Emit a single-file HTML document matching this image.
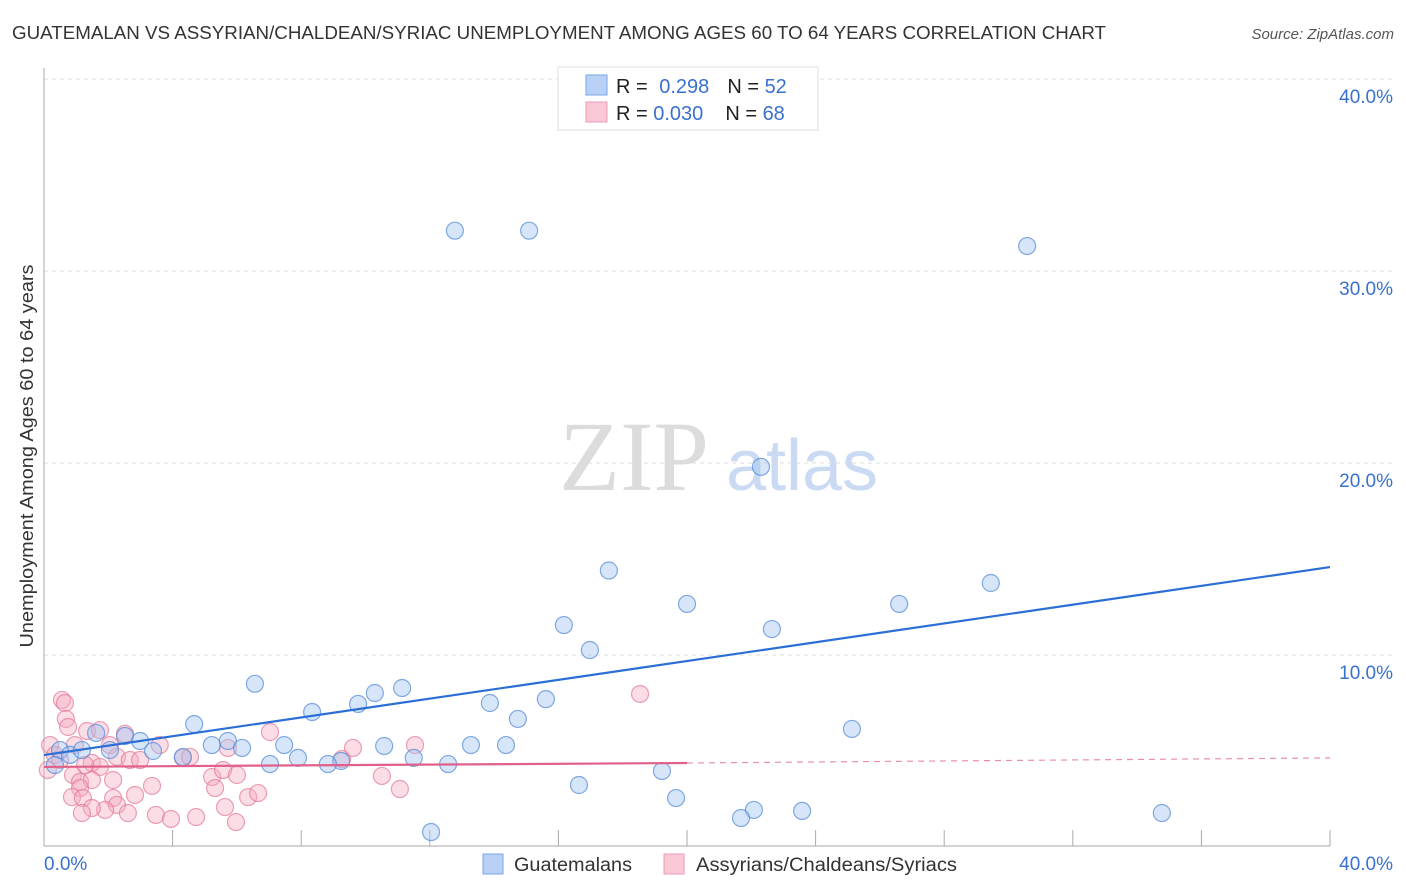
<!DOCTYPE html>
<html><head><meta charset="utf-8">
<style>
body{margin:0;background:#fff;font-family:"Liberation Sans",sans-serif;}
#wrap{position:relative;width:1406px;height:892px;overflow:hidden;}
</style></head>
<body>
<div id="wrap">
<svg id="svg" width="1406" height="892" xmlns="http://www.w3.org/2000/svg">
<text x="12" y="39" font-size="18" fill="#333" textLength="1094" lengthAdjust="spacingAndGlyphs">GUATEMALAN VS ASSYRIAN/CHALDEAN/SYRIAC UNEMPLOYMENT AMONG AGES 60 TO 64 YEARS CORRELATION CHART</text>
<text x="1394" y="39" font-size="15" fill="#555" font-style="italic" text-anchor="end">Source: ZipAtlas.com</text>
<text x="634" y="490" font-size="100" fill="#dcdcdc" font-family="Liberation Serif,serif" text-anchor="middle">ZIP</text>
<text x="802" y="490" font-size="72" fill="#c9daf2" text-anchor="middle">atlas</text>
<g id="grid"></g>
<g id="marks"></g>
<text transform="translate(33,456) rotate(-90)" font-size="18" fill="#333" text-anchor="middle" textLength="383" lengthAdjust="spacingAndGlyphs">Unemployment Among Ages 60 to 64 years</text>
<g>
<rect x="558" y="67" width="260" height="63" fill="#fff" stroke="#ddd"/>
<rect x="586" y="75" width="21" height="20" fill="#b8d0f5" stroke="#7aa6e6"/>
<rect x="586" y="102" width="21" height="20" fill="#fbc8d6" stroke="#ee9ab2"/>
<text x="616" y="93" font-size="20" fill="#222">R = <tspan fill="#3a70d0" dx="6">0.298</tspan><tspan dx="18" fill="#222">N = </tspan><tspan fill="#3a70d0">52</tspan></text>
<text x="616" y="120" font-size="20" fill="#222">R = <tspan fill="#3a70d0">0.030</tspan><tspan dx="22" fill="#222">N = </tspan><tspan fill="#3a70d0">68</tspan></text>
</g>
<g>
<rect x="483" y="854" width="20" height="20" fill="#b8d0f5" stroke="#7aa6e6"/>
<text x="514" y="871" font-size="19" fill="#333" textLength="118" lengthAdjust="spacingAndGlyphs">Guatemalans</text>
<rect x="664" y="854" width="20" height="20" fill="#fbc8d6" stroke="#ee9ab2"/>
<text x="696" y="871" font-size="19" fill="#333" textLength="261" lengthAdjust="spacingAndGlyphs">Assyrians/Chaldeans/Syriacs</text>
</g>
</svg>
</div>
<script>
const yTicks=[10,20,30,40];
const xTickCount=[0,4,8,12,16,20,24,28,32,36,40];
const blueX=[12.78,15.09,30.58,22.3,17.57,20.0,26.6,29.45,16.17,22.64,16.98,6.56,11.14,10.29,9.77,8.34,13.87,15.61,14.74,25.13,4.67,2.52,1.62,2.99,5.72,5.22,6.16,7.47,10.58,13.28,14.37,3.39,4.32,7.9,9.24,11.5,12.57,7.03,8.83,19.22,16.64,19.66,22.08,21.68,23.58,34.77,12.04,0.5,0.81,0.34,1.18,2.05];
const blueY=[32.1,32.1,31.3,19.8,14.4,12.66,12.66,13.75,11.56,11.35,10.26,8.5,8.28,8.02,7.45,7.03,7.5,7.7,6.67,6.15,6.4,5.78,5.94,5.52,5.52,5.31,5.16,5.31,5.26,5.31,5.31,5.0,4.69,4.64,4.48,4.64,4.32,4.32,4.32,3.96,3.23,2.55,1.93,1.51,1.88,1.77,0.78,5.05,4.8,4.27,5.05,5.05];
const pinkX=[0.56,0.65,0.68,0.75,1.34,1.74,2.52,2.05,2.27,2.67,1.49,1.74,0.9,1.12,1.49,2.15,1.12,0.87,1.21,2.15,2.83,3.36,2.27,1.9,1.49,1.18,2.61,3.48,3.95,4.73,4.32,5.23,5.32,5.57,5.63,6.0,5.97,6.35,6.66,7.03,5.72,9.27,18.54,11.54,9.61,10.51,11.07,0.19,0.34,0.5,0.12,0.96,1.28,4.54,2.99,3.6];
const pinkY=[7.66,7.5,6.67,6.25,6.04,6.09,5.89,5.31,4.69,4.53,4.38,4.17,3.75,3.39,3.49,3.49,3.07,2.6,2.55,2.55,2.71,3.18,2.19,1.93,2.03,1.77,1.77,1.67,1.46,1.56,4.64,3.65,3.07,4.01,2.08,3.75,1.3,2.6,2.81,5.99,5.16,4.58,7.97,5.31,5.16,3.7,3.02,5.31,4.79,4.53,4.01,5.31,4.27,4.69,4.53,5.31];
const blueLine=[[0,4.79],[40,14.58]];
const pinkLine=[[0,4.17],[20,4.375]];
const pinkDash=[[20,4.375],[40,4.64]];
const NS="http://www.w3.org/2000/svg";
const sx=v=>44+v*32.15, sy=v=>847-v*19.2;
function mk(t,a,p){const e=document.createElementNS(NS,t);for(const k in a)e.setAttribute(k,a[k]);p.appendChild(e);return e;}
const grid=document.getElementById('grid'), marks=document.getElementById('marks');
yTicks.forEach(v=>{
 const l=mk('line',{x1:44,x2:1393,y1:sy(v),y2:sy(v),stroke:'#ddd','stroke-dasharray':'4,4'},grid);
 
 
 const t=mk('text',{x:1393,y:sy(v)+24,'font-size':19,fill:'#3a70d0','text-anchor':'end'},grid);
 t.textContent=v.toFixed(1)+'%';
 
 
});
const ya=mk('line',{x1:44,x2:44,y1:68,y2:846,stroke:'#aaa'},grid);


const xa=mk('line',{x1:44,x2:1330,y1:846,y2:846,stroke:'#aaa'},grid);


xTickCount.forEach(v=>{
 const l=mk('line',{x1:sx(v),x2:sx(v),y1:830,y2:846,stroke:'#aaa'},grid);
 
 
});
[[0,'start','0.0%'],[40,'end','40.0%']].forEach(([v,a,s])=>{
 const t=mk('text',{x:v==0?44:1393,y:870,'font-size':19,fill:'#3a70d0','text-anchor':a},grid);
 t.textContent=s;
 
 
});
pinkX.forEach((x,i)=>{
 const c=mk('circle',{cx:sx(x),cy:sy(pinkY[i]),r:8.5,fill:'rgba(246,170,192,0.4)',stroke:'rgba(228,120,150,0.7)','stroke-width':1.2},marks);
 
 
});
blueX.forEach((x,i)=>{
 const c=mk('circle',{cx:sx(x),cy:sy(blueY[i]),r:8.5,fill:'rgba(165,198,240,0.45)',stroke:'rgba(80,135,215,0.7)','stroke-width':1.2},marks);
 
 
});
const bl=mk('line',{x1:sx(blueLine[0][0]),y1:sy(blueLine[0][1]),x2:sx(blueLine[1][0]),y2:sy(blueLine[1][1]),stroke:'#2b6fd6','stroke-width':2.2},marks);


const pl=mk('line',{x1:sx(pinkLine[0][0]),y1:sy(pinkLine[0][1]),x2:sx(pinkLine[1][0]),y2:sy(pinkLine[1][1]),stroke:'#e0608a','stroke-width':2.2},marks);


const pd=mk('line',{x1:sx(pinkDash[0][0]),y1:sy(pinkDash[0][1]),x2:sx(pinkDash[1][0]),y2:sy(pinkDash[1][1]),stroke:'#e890aa','stroke-width':1.2,'stroke-dasharray':'6,5'},marks);


</script>
</body></html>
